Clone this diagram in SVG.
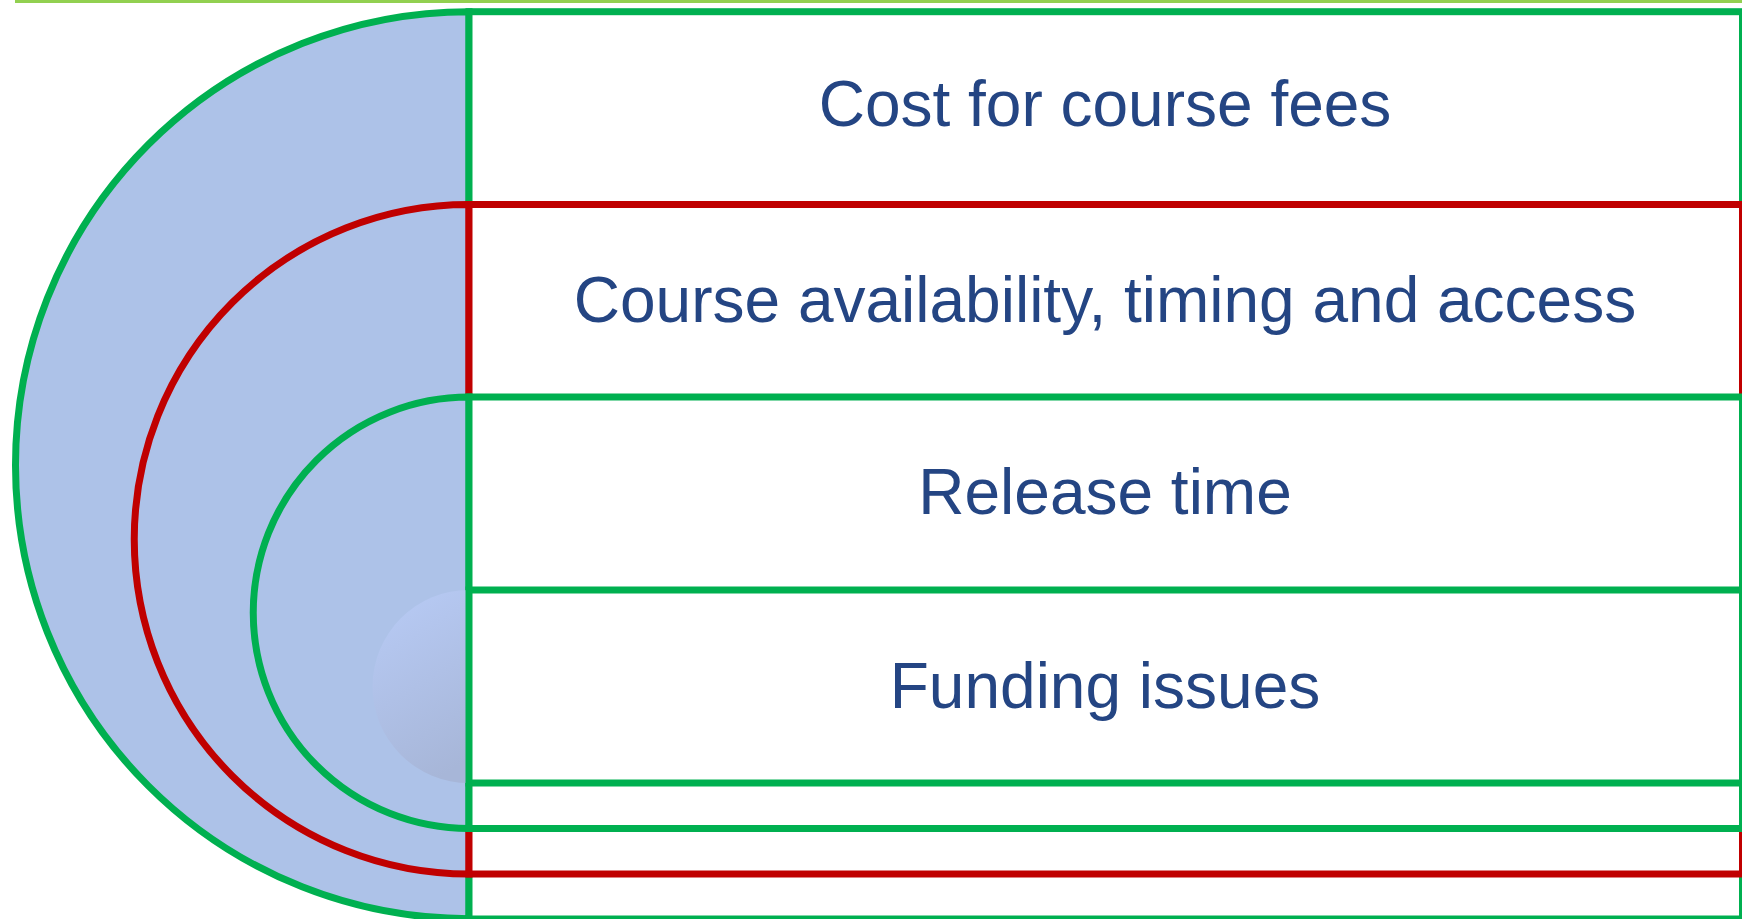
<svg xmlns="http://www.w3.org/2000/svg" width="1742" height="919" viewBox="0 0 1742 919">
  <style>
    .half { fill: #ADC2E8; }
    .band { fill: #FFFFFF; }
    .g { stroke: #00B050; stroke-width: 7; }
    .r { stroke: #C00000; stroke-width: 7; }
    .label { font-family: "Liberation Sans", Arial, sans-serif; font-size: 64px; fill: #244583; text-anchor: middle; }
  </style>
  <defs>
    <linearGradient id="coreShade" x1="0.3" y1="0" x2="0.6" y2="1">
      <stop offset="0" stop-color="#B7CAF4"/>
      <stop offset="1" stop-color="#A7B6D8"/>
    </linearGradient>
  </defs>

  <!-- thin rule along the top edge -->
  <rect x="15" y="0" width="1727" height="3" fill="#92D050"/>

  <!-- outer band: course fees -->
  <g id="node-cost">
    <path class="half g" d="M469 11.7 A453 453 0 0 0 469 918.7 Z"/>
    <rect class="band g" x="469" y="11.7" width="1273.5" height="907.3"/>
    <text class="label" x="1105" y="126">Cost for course fees</text>
  </g>

  <!-- second band: availability -->
  <g id="node-availability">
    <path class="half r" d="M469 204.5 A334.75 334.75 0 0 0 469 874 Z"/>
    <rect class="band r" x="469" y="204.5" width="1273.5" height="669.5"/>
    <text class="label" x="1105" y="322">Course availability, timing and access</text>
  </g>

  <!-- third band: release time -->
  <g id="node-release">
    <path class="half g" d="M469 397 A215.75 215.75 0 0 0 469 828.5 Z"/>
    <rect class="band g" x="469" y="397" width="1273.5" height="431.5"/>
    <text class="label" x="1105" y="514">Release time</text>
  </g>

  <!-- inner band: funding -->
  <g id="node-funding">
    <path d="M469 590 A96.5 96.5 0 0 0 469 783 Z" fill="url(#coreShade)"/>
    <rect class="band g" x="469" y="590" width="1273.5" height="193"/>
    <text class="label" x="1105" y="708">Funding issues</text>
  </g>
</svg>
